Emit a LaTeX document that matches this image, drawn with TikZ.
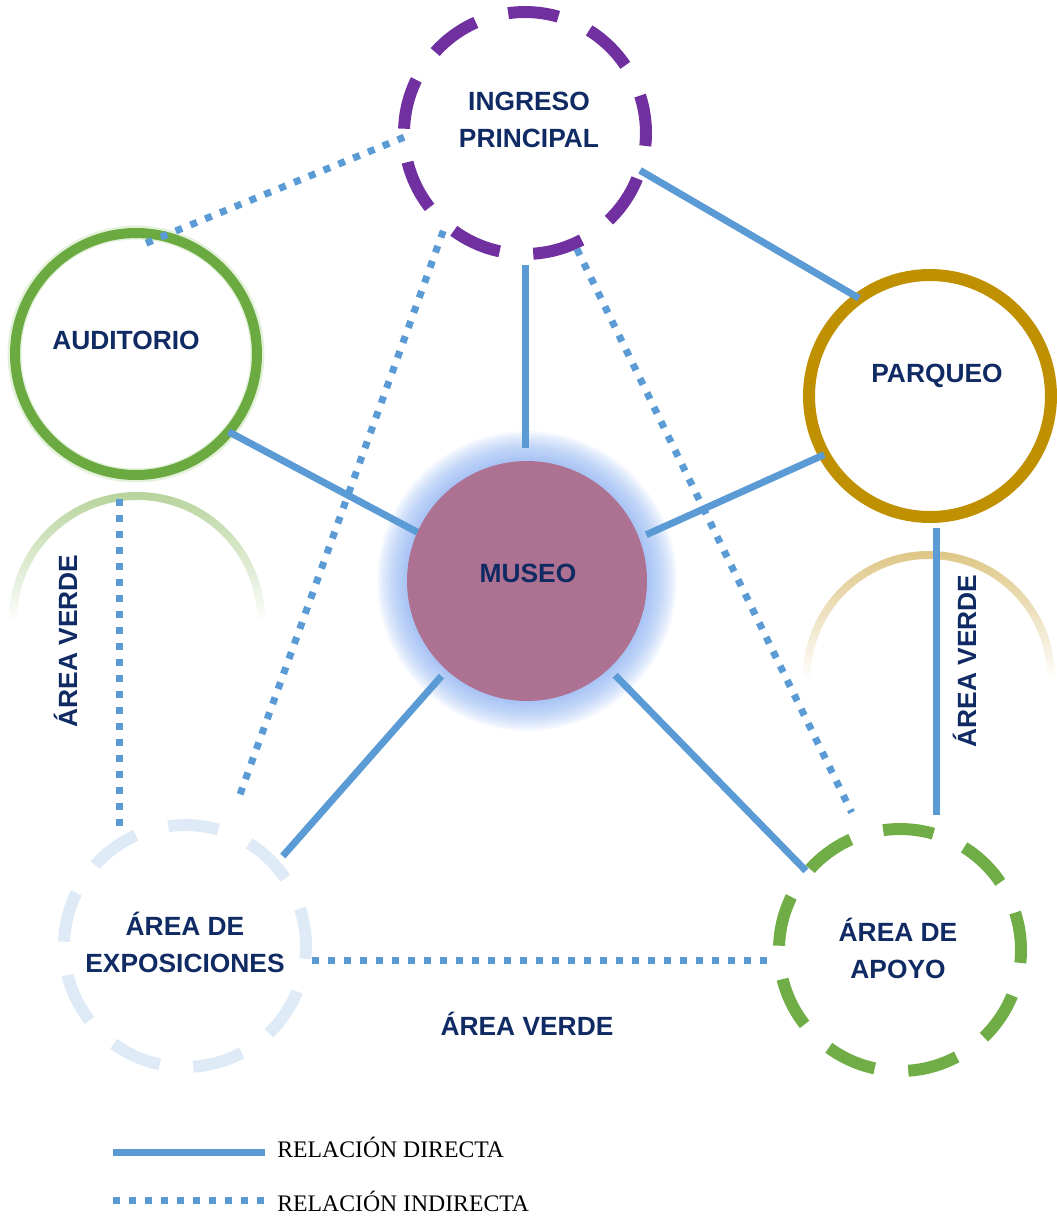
\documentclass[tikz,border=0pt]{standalone}
\usepackage{fontspec}
\setmainfont{Liberation Serif}
\newfontfamily\sansb{Liberation Sans}
\usepackage{tikz}
\usetikzlibrary{positioning,calc,fadings}

\definecolor{lblue}{HTML}{5B9BD5}
\definecolor{navy}{HTML}{102A63}
\definecolor{ingpurple}{HTML}{7030A0}
\definecolor{audgreen}{HTML}{6AAA40}
\definecolor{audhalo}{HTML}{E4F1DA}
\definecolor{pargold}{HTML}{BF9000}
\definecolor{museo}{HTML}{AD7192}
\definecolor{glowblue}{HTML}{7FA8F0}
\definecolor{expblue}{HTML}{DEEBF7}
\definecolor{apogreen}{HTML}{70AD47}
\definecolor{arcgreen}{HTML}{B3D196}
\definecolor{arcgold}{HTML}{DCC37F}

\tikzfading[name=fadedown, top color=transparent!5, bottom color=transparent!100]

\tikzset{
  direct/.style={draw=lblue, line width=0.14cm},
  indirect/.style={draw=lblue, line width=0.14cm, dash pattern=on 0.14cm off 0.18cm},
  zone/.style={circle, minimum size=4.84cm, inner sep=0pt, outer sep=0pt},
  ringdash/.style={line width=0.24cm, dash pattern=on 1.014cm off 0.675cm, dash phase=0.253cm},
  lbl/.style={font={\sansb\bfseries\fontsize{15}{21}\selectfont}, text=navy, align=center, inner sep=0pt},
  leg/.style={font={\fontsize{13.5}{16}\selectfont}, text=black, inner sep=0pt},
}

\begin{document}
\begin{tikzpicture}[x=0.02cm,y=-0.02cm]
  \useasboundingbox (0,0) rectangle (1056,1218);

  % reflections (area verde)
  \draw[arcgreen, line width=0.16cm, path fading=fadedown] (13,620) arc[start angle=180, end angle=0, radius=2.48cm];
  \draw[arcgold, line width=0.16cm, path fading=fadedown] (807,677) arc[start angle=180, end angle=0, radius=2.44cm];

  % glow behind the museum
  \coordinate (cmus) at (527,581);
  \foreach \r in {150,148,...,122}
    \fill[glowblue, opacity=0.07] (cmus) circle[radius=\r*0.02cm];

  % zones
  \node[zone, draw=ingpurple, ringdash] (ing) at (525,133) {};
  \draw[audhalo, line width=0.28cm] (136,354) circle[radius=2.43cm];
  \node[zone, draw=audgreen, line width=0.2cm] (aud) at (136,354) {};
  \node[zone, draw=pargold, line width=0.24cm] (par) at (930,396) {};
  \node[zone, minimum size=4.8cm, fill=museo] (mus) at (cmus) {};
  \node[zone, draw=expblue, ringdash] (exp) at (185,946) {};
  \node[zone, draw=apogreen, ringdash] (apo) at (900,950) {};

  % direct relations
  \draw[direct, shorten <=0.22cm, shorten >=0.26cm] (ing.south) -- (ing.south |- mus.north);
  \draw[direct] (ing.-18) -- (par.126);
  \draw[direct] (aud.-40) -- (mus.156);
  \draw[direct, shorten >=0.16cm] (par.209) -- (mus.21);
  \draw[direct, shorten <=0.16cm, shorten >=0.24cm] (mus.228) -- (exp.42);
  \draw[direct, shorten <=0.18cm, shorten >=0.04cm] (mus.-47) -- (apo.140);
  \draw[direct, shorten <=0.22cm, shorten >=0.28cm] (par.-87) -- (par.-87 |- apo.north);

  % indirect relations
  \draw[indirect, shorten >=-0.48cm] (ing.182) -- (aud.77);
  \draw[indirect, shorten <=0.14cm, shorten >=0.8cm] (ing.229) -- (exp.70);
  \draw[indirect, shorten <=0.12cm, shorten >=0.5cm] (ing.-66) -- (apo.108);
  \draw[indirect, shorten <=0.5cm, shorten >=-0.12cm] (aud.-98) -- (aud.-98 |- exp.north);
  \draw[indirect, shorten <=0.14cm, shorten >=0.08cm] (exp.-7) -- (exp.-7 -| apo.west);

  % labels
  \node[lbl] (tIng) at ($(ing)+(4,-13)$) {INGRESO\\PRINCIPAL};
  \node[lbl] (tAud) at ($(aud)+(-10,-14)$) {AUDITORIO};
  \node[lbl] (tPar) at ($(par)+(7,-20)$) {PARQUEO};
  \node[lbl] (tMus) at ($(mus)+(1,-8)$) {MUSEO};
  \node[lbl] (tExp) at ($(exp)+(0,-4)$) {ÁREA DE\\EXPOSICIONES};
  \node[lbl] (tApo) at ($(apo)+(-2,-2)$) {ÁREA DE\\APOYO};
  \node[lbl, rotate=90, anchor=base] (vLeft) at (77,641) {ÁREA VERDE};
  \node[lbl, rotate=90, anchor=base] (vRight) at (976,661) {ÁREA VERDE};
  \node[lbl, anchor=base] (vBottom) at (527,1035) {ÁREA VERDE};

  % legend
  \coordinate (ds) at (113,1152);
  \coordinate (de) at (265,1152);
  \coordinate (is) at (113,1200);
  \coordinate (ie) at (265,1200);
  \draw[direct] (ds) -- (de);
  \draw[indirect] (is) -- (ie);
  \node[leg, anchor=base west] (lDir) at (277,1157) {RELACIÓN DIRECTA};
  \node[leg, anchor=base west] (lInd) at (277,1211) {RELACIÓN INDIRECTA};
\end{tikzpicture}
\end{document}
